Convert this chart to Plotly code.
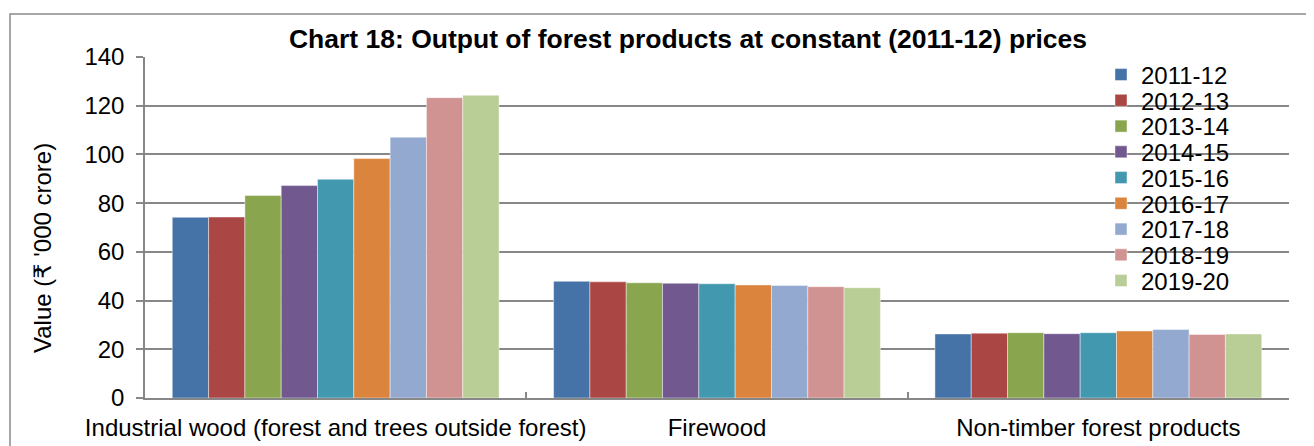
import plotly.graph_objects as go

categories = ["Industrial wood (forest and trees outside forest)", "Firewood", "Non-timber forest products"]
years = ["2011-12", "2012-13", "2013-14", "2014-15", "2015-16", "2016-17", "2017-18", "2018-19", "2019-20"]
industrial_wood = [74.2, 74.3, 83.1, 87.2, 89.8, 98.3, 107.1, 123.3, 124.3]
firewood = [47.9, 47.7, 47.3, 47.1, 46.9, 46.4, 46.2, 45.7, 45.3]
ntfp = [26.3, 26.6, 26.8, 26.4, 26.8, 27.5, 28.1, 26.1, 26.3]
colors = ["#4572A7", "#AA4643", "#89A54E", "#71588F", "#4198AF",
          "#DB843D", "#93A9CF", "#D19392", "#B9CD96"]
y_ticks = [0, 20, 40, 60, 80, 100, 120, 140]

# page body has an 8px margin, so the figure is drawn 8px in from the window corner
OFF = 8
W, H = 1314 - OFF, 446 - OFF
L, T = 145 - OFF, 57 - OFF
R = W - (1289 - OFF)
B = H - (398 - OFF)
PW, PH = W - L - R, H - T - B

def px_x(p):  # window pixel -> paper x
    return (p - OFF - L) / PW

def px_y(p):  # window pixel -> paper y
    return (H - B - (p - OFF)) / PH

FONT = "Liberation Sans, Arial, DejaVu Sans, sans-serif"
GRID = "#878787"

fig = go.Figure()
for i, yr in enumerate(years):
    vals = [industrial_wood[i], firewood[i], ntfp[i]]
    fig.add_trace(go.Bar(
        x=categories, y=vals, name=yr,
        marker=dict(color=colors[i], line=dict(color="rgba(255,255,255,0.55)", width=0.8)),
        legend="legend" if i == 0 else f"legend{i+1}",
    ))

layout_legends = {}
for i in range(len(years)):
    key = "legend" if i == 0 else f"legend{i+1}"
    layout_legends[key] = dict(
        x=px_x(1101), xanchor="left",
        y=px_y(75 + 25.75 * i), yanchor="middle",
        bgcolor="rgba(0,0,0,0)", borderwidth=0,
        font=dict(family=FONT, size=24, color="#000"),
    )

fig.update_layout(
    width=W, height=H,
    margin=dict(l=L, r=R, t=T, b=B, pad=0, autoexpand=False),
    paper_bgcolor="white", plot_bgcolor="white",
    barmode="group", bargap=0.143, bargroupgap=0,
    font=dict(family=FONT, size=24, color="#000"),
    title=dict(
        text="<b>Chart 18: Output of forest products at constant (2011-12) prices</b>",
        font=dict(family=FONT, size=26.5, color="#000"),
        xref="container", yref="container",
        x=(688 - OFF) / W, xanchor="center",
        y=1 - (39 - OFF) / H, yanchor="middle",
    ),
    xaxis=dict(
        type="category", automargin=False, tickangle=0,
        showline=True, linecolor=GRID, linewidth=1.5,
        ticks="inside", tickson="boundaries", ticklen=6, tickcolor=GRID, tickwidth=1.5,
        showgrid=False,
        tickfont=dict(family=FONT, size=24, color="#000"),
        ticklabelstandoff=7,
    ),
    yaxis=dict(
        range=[0, 140], tickvals=y_ticks, automargin=False,
        showline=True, linecolor=GRID, linewidth=1.5,
        ticks="outside", ticklen=7, tickcolor=GRID, tickwidth=1.5,
        showgrid=True, gridcolor=GRID, gridwidth=1.5,
        zeroline=False,
        tickfont=dict(family=FONT, size=24, color="#000"),
        ticklabelstandoff=7,
    ),
    annotations=[dict(
        text="Value (₹ '000 crore)", textangle=-90,
        xref="paper", yref="paper",
        x=px_x(43), y=px_y(248), xanchor="center", yanchor="middle",
        showarrow=False, font=dict(family=FONT, size=24, color="#000"),
    )],
    shapes=[dict(
        type="rect", xref="paper", yref="paper",
        x0=px_x(10), x1=px_x(1330), y0=px_y(470), y1=px_y(14),
        line=dict(color="#8a8a8a", width=1.5), fillcolor="rgba(0,0,0,0)", layer="below",
    )],
    showlegend=True,
    **layout_legends,
)

fig.write_html("out.html")
